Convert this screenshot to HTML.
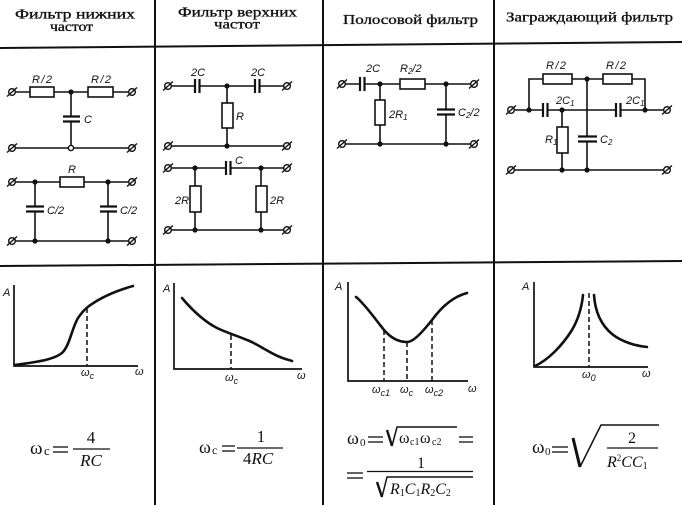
<!DOCTYPE html>
<html><head><meta charset="utf-8"><style>
html,body{margin:0;padding:0;background:#fff}
svg{display:block}
.w{stroke:#111;stroke-width:1.6;fill:none}
.r{stroke:#111;stroke-width:1.6;fill:#fff}
.p{stroke:#111;stroke-width:2.2}
.g{stroke:#111;stroke-width:2;fill:none}
.cv{stroke:#111;stroke-width:2.6;fill:none;stroke-linecap:round}
.ax{stroke:#111;stroke-width:1.7;fill:none}
.d{stroke:#111;stroke-width:1.5;stroke-dasharray:5 3}
.lb{font-family:"Liberation Sans",sans-serif;font-style:italic;font-size:11px;fill:#111}
.hd{font-family:"Liberation Serif","DejaVu Serif",serif;font-size:14px;fill:#111;stroke:#111;stroke-width:0.35}
.f{font-family:"Liberation Serif",serif;fill:#111}
.fi{font-family:"Liberation Serif",serif;font-style:italic;fill:#111}
</style></head><body>
<svg width="682" height="505" viewBox="0 0 682 505" xmlns="http://www.w3.org/2000/svg">
<defs>
<g id="t"><circle r="3.3" fill="#fff" stroke="#111" stroke-width="1.4"/><line x1="-5" y1="4.5" x2="5" y2="-4.5" stroke="#111" stroke-width="1.4"/></g>
</defs>

<!-- grid -->
<line class="g" x1="0" y1="48" x2="682" y2="42"/>
<line class="g" x1="0" y1="266" x2="682" y2="261"/>
<line class="g" x1="155" y1="0" x2="155" y2="505"/>
<line class="g" x1="323" y1="0" x2="323" y2="505"/>
<line class="g" x1="494" y1="0" x2="494" y2="505"/>

<!-- headers -->
<text class="hd" x="15" y="18.5" textLength="120" lengthAdjust="spacingAndGlyphs">Фильтр нижних</text>
<text class="hd" x="50" y="31" textLength="43" lengthAdjust="spacingAndGlyphs">частот</text>
<text class="hd" x="178" y="16.5" textLength="119" lengthAdjust="spacingAndGlyphs">Фильтр верхних</text>
<text class="hd" x="214" y="28.5" textLength="46" lengthAdjust="spacingAndGlyphs">частот</text>
<text class="hd" x="343" y="24" textLength="135" lengthAdjust="spacingAndGlyphs">Полосовой фильтр</text>
<text class="hd" x="506" y="21.5" textLength="167" lengthAdjust="spacingAndGlyphs">Заграждающий фильтр</text>

<!-- ===== Circuit 1: LPF T ===== -->
<line class="w" x1="12" y1="92" x2="132" y2="92"/>
<rect class="r" x="30" y="87" width="24" height="10"/>
<rect class="r" x="88" y="87" width="25" height="10"/>
<line class="w" x1="71" y1="92" x2="71" y2="148"/>
<rect x="62" y="117" width="20" height="4" fill="#fff"/>
<line class="p" x1="63" y1="116.5" x2="80" y2="116.5"/>
<line class="p" x1="63" y1="121.5" x2="80" y2="121.5"/>
<line class="w" x1="12" y1="148" x2="132" y2="148"/>
<circle cx="71" cy="92" r="2.6" fill="#111"/>
<circle cx="71" cy="148" r="2.6" fill="#fff" stroke="#111" stroke-width="1.4"/>
<use href="#t" x="12" y="92"/><use href="#t" x="132" y="92"/>
<use href="#t" x="12" y="148"/><use href="#t" x="132" y="148"/>
<text class="lb" x="32" y="83" font-size="12" textLength="20">R/2</text>
<text class="lb" x="91" y="83" font-size="12" textLength="20">R/2</text>
<text class="lb" x="84" y="123">C</text>

<!-- ===== Circuit 2: LPF Pi ===== -->
<line class="w" x1="12" y1="182" x2="132" y2="182"/>
<rect class="r" x="60" y="177" width="24" height="10"/>
<line class="w" x1="35" y1="182" x2="35" y2="241"/>
<line class="w" x1="108" y1="182" x2="108" y2="241"/>
<rect x="24" y="207" width="22" height="4" fill="#fff"/>
<rect x="98" y="207" width="22" height="4" fill="#fff"/>
<line class="p" x1="26" y1="206.5" x2="44" y2="206.5"/>
<line class="p" x1="26" y1="211.5" x2="44" y2="211.5"/>
<line class="p" x1="100" y1="206.5" x2="117" y2="206.5"/>
<line class="p" x1="100" y1="211.5" x2="117" y2="211.5"/>
<line class="w" x1="12" y1="241" x2="132" y2="241"/>
<circle cx="35" cy="182" r="2.6" fill="#111"/><circle cx="108" cy="182" r="2.6" fill="#111"/>
<circle cx="35" cy="241" r="2.6" fill="#111"/><circle cx="108" cy="241" r="2.6" fill="#111"/>
<use href="#t" x="12" y="182"/><use href="#t" x="132" y="182"/>
<use href="#t" x="12" y="241"/><use href="#t" x="132" y="241"/>
<text class="lb" x="68" y="173" font-size="12">R</text>
<text class="lb" x="47" y="214" font-size="12">C/2</text>
<text class="lb" x="120" y="214" font-size="12">C/2</text>

<!-- ===== Circuit 3: HPF T ===== -->
<line class="w" x1="168" y1="86" x2="287" y2="86"/>
<rect x="195" y="80" width="4" height="12" fill="#fff"/>
<line class="p" x1="195" y1="79" x2="195" y2="93"/>
<line class="p" x1="199.5" y1="79" x2="199.5" y2="93"/>
<rect x="255" y="80" width="4" height="12" fill="#fff"/>
<line class="p" x1="255" y1="79" x2="255" y2="93"/>
<line class="p" x1="259.5" y1="79" x2="259.5" y2="93"/>
<line class="w" x1="227" y1="86" x2="227" y2="146"/>
<rect class="r" x="222" y="103" width="11" height="25"/>
<line class="w" x1="168" y1="146" x2="287" y2="146"/>
<circle cx="227" cy="86" r="2.6" fill="#111"/><circle cx="227" cy="146" r="2.6" fill="#111"/>
<use href="#t" x="168" y="86"/><use href="#t" x="287" y="86"/>
<use href="#t" x="168" y="146"/><use href="#t" x="287" y="146"/>
<text class="lb" x="191" y="76">2C</text>
<text class="lb" x="251" y="76">2C</text>
<text class="lb" x="236" y="120">R</text>

<!-- ===== Circuit 4: HPF Pi ===== -->
<line class="w" x1="168" y1="168" x2="287" y2="168"/>
<rect x="226" y="162" width="4" height="12" fill="#fff"/>
<line class="p" x1="226" y1="161" x2="226" y2="175"/>
<line class="p" x1="230.5" y1="161" x2="230.5" y2="175"/>
<line class="w" x1="195" y1="168" x2="195" y2="230"/>
<line class="w" x1="261" y1="168" x2="261" y2="230"/>
<rect class="r" x="190" y="186" width="11" height="26"/>
<rect class="r" x="256" y="186" width="11" height="26"/>
<line class="w" x1="168" y1="230" x2="287" y2="230"/>
<circle cx="195" cy="168" r="2.6" fill="#111"/><circle cx="261" cy="168" r="2.6" fill="#111"/>
<circle cx="195" cy="230" r="2.6" fill="#111"/><circle cx="261" cy="230" r="2.6" fill="#111"/>
<use href="#t" x="168" y="168"/><use href="#t" x="287" y="168"/>
<use href="#t" x="168" y="230"/><use href="#t" x="287" y="230"/>
<text class="lb" x="235" y="164">C</text>
<text class="lb" x="175" y="204">2R</text>
<text class="lb" x="270" y="204">2R</text>

<!-- ===== Circuit 5: band-pass ===== -->
<line class="w" x1="342" y1="84" x2="474" y2="84"/>
<rect x="360" y="78" width="4" height="12" fill="#fff"/>
<line class="p" x1="360" y1="77" x2="360" y2="91"/>
<line class="p" x1="364.5" y1="77" x2="364.5" y2="91"/>
<rect class="r" x="400" y="79" width="25" height="10"/>
<line class="w" x1="380" y1="84" x2="380" y2="144"/>
<rect class="r" x="375" y="100" width="10" height="25"/>
<line class="w" x1="446" y1="84" x2="446" y2="144"/>
<rect x="436" y="110" width="20" height="4" fill="#fff"/>
<line class="p" x1="437" y1="109.5" x2="455" y2="109.5"/>
<line class="p" x1="437" y1="114.5" x2="455" y2="114.5"/>
<line class="w" x1="342" y1="144" x2="474" y2="144"/>
<circle cx="380" cy="84" r="2.6" fill="#111"/><circle cx="446" cy="84" r="2.6" fill="#111"/>
<circle cx="380" cy="144" r="2.6" fill="#111"/><circle cx="446" cy="144" r="2.6" fill="#111"/>
<use href="#t" x="342" y="84"/><use href="#t" x="474" y="84"/>
<use href="#t" x="342" y="144"/><use href="#t" x="474" y="144"/>
<text class="lb" x="366" y="72">2C</text>
<text class="lb" x="400" y="72">R<tspan font-size="8" dy="2">2</tspan><tspan dy="-2">/2</tspan></text>
<text class="lb" x="389" y="118">2R<tspan font-size="8" dy="2">1</tspan></text>
<text class="lb" x="458" y="116">C<tspan font-size="8" dy="2">2</tspan><tspan dy="-2">/2</tspan></text>

<!-- ===== Circuit 6: notch ===== -->
<polyline class="w" points="529,110 529,79 645,79 645,110"/>
<rect class="r" x="543" y="74" width="29" height="10"/>
<rect class="r" x="603" y="74" width="29" height="10"/>
<line class="w" x1="511" y1="110" x2="667" y2="110"/>
<rect x="543" y="104" width="4" height="12" fill="#fff"/>
<line class="p" x1="543" y1="103" x2="543" y2="117"/>
<line class="p" x1="547.5" y1="103" x2="547.5" y2="117"/>
<rect x="616" y="104" width="4" height="12" fill="#fff"/>
<line class="p" x1="616" y1="103" x2="616" y2="117"/>
<line class="p" x1="620.5" y1="103" x2="620.5" y2="117"/>
<line class="w" x1="587" y1="79" x2="587" y2="170"/>
<rect x="577" y="137" width="21" height="4" fill="#fff"/>
<line class="p" x1="578" y1="136.5" x2="597" y2="136.5"/>
<line class="p" x1="578" y1="141.5" x2="597" y2="141.5"/>
<line class="w" x1="562" y1="110" x2="562" y2="170"/>
<rect class="r" x="557" y="127" width="11" height="26"/>
<line class="w" x1="511" y1="170" x2="667" y2="170"/>
<circle cx="587" cy="79" r="2.6" fill="#111"/>
<circle cx="529" cy="110" r="2.6" fill="#111"/><circle cx="562" cy="110" r="2.6" fill="#111"/><circle cx="645" cy="110" r="2.6" fill="#111"/>
<circle cx="562" cy="170" r="2.6" fill="#111"/><circle cx="587" cy="170" r="2.6" fill="#111"/>
<use href="#t" x="511" y="110"/><use href="#t" x="667" y="110"/>
<use href="#t" x="511" y="170"/><use href="#t" x="667" y="170"/>
<text class="lb" x="546" y="69" font-size="12" textLength="20">R/2</text>
<text class="lb" x="606" y="69" font-size="12" textLength="20">R/2</text>
<text class="lb" x="556" y="104">2C<tspan font-size="8" dy="2">1</tspan></text>
<text class="lb" x="626" y="104">2C<tspan font-size="8" dy="2">1</tspan></text>
<text class="lb" x="545" y="143">R<tspan font-size="8" dy="2">1</tspan></text>
<text class="lb" x="600" y="143">C<tspan font-size="8" dy="2">2</tspan></text>

<!-- ===== Graph 1 ===== -->
<path class="ax" d="M14,285 V366 H138"/>
<line class="d" x1="87" y1="308" x2="87" y2="366"/>
<path class="cv" d="M15,365 C35,362 55,360 63,352 C70,344 72,328 78,318 C82,312 85,309 89,306 C100,298 115,291 133,286"/>
<text class="lb" x="3" y="296">A</text>
<text class="lb" x="81" y="376" font-size="14">ω<tspan font-size="9" dy="3">c</tspan></text>
<text class="lb" x="135" y="375" font-size="14">ω</text>

<!-- ===== Graph 2 ===== -->
<path class="ax" d="M174,283 V369 H302"/>
<line class="d" x1="231" y1="335" x2="231" y2="369"/>
<path class="cv" d="M182,298 C192,310 205,322 217,328 C225,332 235,335 247,340 C256,343 268,352 280,357 C285,359 289,360 292,361"/>
<text class="lb" x="163" y="292">A</text>
<text class="lb" x="225" y="381" font-size="14">ω<tspan font-size="9" dy="3">c</tspan></text>
<text class="lb" x="297" y="379" font-size="14">ω</text>

<!-- ===== Graph 3 ===== -->
<path class="ax" d="M348,282 V381 H468"/>
<line class="d" x1="384" y1="330" x2="384" y2="381"/>
<line class="d" x1="407" y1="342" x2="407" y2="381"/>
<line class="d" x1="432" y1="320" x2="432" y2="381"/>
<path class="cv" d="M356,297 C364,303 376,320 384,330 C390,337 398,342 407,342 C414,342 424,330 432,320 C440,309 452,297 467,293"/>
<text class="lb" x="335" y="290">A</text>
<text class="lb" x="372" y="393" font-size="14">ω<tspan font-size="9" dy="3">c1</tspan></text>
<text class="lb" x="400" y="393" font-size="14">ω<tspan font-size="9" dy="3">c</tspan></text>
<text class="lb" x="425" y="393" font-size="14">ω<tspan font-size="9" dy="3">c2</tspan></text>
<text class="lb" x="468" y="392" font-size="14">ω</text>

<!-- ===== Graph 4 ===== -->
<path class="ax" d="M534,282 V367 H648"/>
<line class="d" x1="589" y1="293" x2="589" y2="367"/>
<path class="cv" d="M535,366 C548,360 562,346 572,330 C579,318 582,305 583,295"/>
<path class="cv" d="M594,295 C595,310 600,324 612,334 C622,342 636,346 647,347"/>
<text class="lb" x="522" y="290">A</text>
<text class="lb" x="582" y="378" font-size="14">ω<tspan font-size="9" dy="3">0</tspan></text>
<text class="lb" x="642" y="377" font-size="14">ω</text>

<!-- ===== Formula 1 ===== -->
<text class="f" x="30" y="454" font-size="19">ω</text>
<text class="f" x="44" y="455" font-size="13">c</text>
<line x1="53" y1="447" x2="68" y2="447" stroke="#111" stroke-width="1.3"/>
<line x1="53" y1="452" x2="68" y2="452" stroke="#111" stroke-width="1.3"/>
<text class="f" x="91" y="443" font-size="17" text-anchor="middle">4</text>
<line x1="73" y1="449" x2="110" y2="449" stroke="#111" stroke-width="1.2"/>
<text class="fi" x="91" y="466" font-size="17" text-anchor="middle">RC</text>

<!-- ===== Formula 2 ===== -->
<text class="f" x="199" y="453" font-size="18">ω</text>
<text class="f" x="212" y="454" font-size="12">c</text>
<line x1="222" y1="446" x2="235" y2="446" stroke="#111" stroke-width="1.3"/>
<line x1="222" y1="451" x2="235" y2="451" stroke="#111" stroke-width="1.3"/>
<text class="f" x="261" y="442" font-size="17" text-anchor="middle">1</text>
<line x1="237" y1="448" x2="283" y2="448" stroke="#111" stroke-width="1.2"/>
<text class="f" x="243" y="464" font-size="17">4<tspan font-style="italic">RC</tspan></text>

<!-- ===== Formula 3 ===== -->
<text class="f" x="347" y="444" font-size="18">ω</text>
<text class="f" x="360" y="446" font-size="11">0</text>
<line x1="368" y1="437" x2="383" y2="437" stroke="#111" stroke-width="1.3"/>
<line x1="368" y1="442" x2="383" y2="442" stroke="#111" stroke-width="1.3"/>
<polyline points="387,430 392,446" fill="none" stroke="#111" stroke-width="2.4"/>
<polyline points="392,446 397,427 457,427" fill="none" stroke="#111" stroke-width="1.5"/>
<text class="f" x="399" y="443" font-size="16">ω</text>
<text class="f" x="410" y="445" font-size="10">c1</text>
<text class="f" x="420" y="443" font-size="16">ω</text>
<text class="f" x="432" y="445" font-size="10">c2</text>
<line x1="459" y1="437" x2="473" y2="437" stroke="#111" stroke-width="1.3"/>
<line x1="459" y1="442" x2="473" y2="442" stroke="#111" stroke-width="1.3"/>
<line x1="347" y1="473" x2="363" y2="473" stroke="#111" stroke-width="1.3"/>
<line x1="347" y1="478" x2="363" y2="478" stroke="#111" stroke-width="1.3"/>
<text class="f" x="421" y="468" font-size="16" text-anchor="middle">1</text>
<line x1="367" y1="471.5" x2="473" y2="471.5" stroke="#111" stroke-width="1.2"/>
<polyline points="377,482 382,497" fill="none" stroke="#111" stroke-width="2.4"/>
<polyline points="382,497 387,477 473,477" fill="none" stroke="#111" stroke-width="1.5"/>
<text class="fi" x="390" y="494" font-size="16">R<tspan font-style="normal" font-size="10" dy="2">1</tspan><tspan dy="-2">C</tspan><tspan font-style="normal" font-size="10" dy="2">1</tspan><tspan dy="-2">R</tspan><tspan font-style="normal" font-size="10" dy="2">2</tspan><tspan dy="-2">C</tspan><tspan font-style="normal" font-size="10" dy="2">2</tspan></text>

<!-- ===== Formula 4 ===== -->
<text class="f" x="532" y="453" font-size="19">ω</text>
<text class="f" x="545" y="455" font-size="11">0</text>
<line x1="552" y1="447" x2="568" y2="447" stroke="#111" stroke-width="1.3"/>
<line x1="552" y1="452" x2="568" y2="452" stroke="#111" stroke-width="1.3"/>
<polyline points="573,438 580,467" fill="none" stroke="#111" stroke-width="3"/>
<polyline points="580,467 601,425 659,425" fill="none" stroke="#111" stroke-width="1.5"/>
<text class="f" x="632" y="443" font-size="16" text-anchor="middle">2</text>
<line x1="607" y1="448" x2="658" y2="448" stroke="#111" stroke-width="1.2"/>
<text class="fi" x="607" y="467" font-size="16">R<tspan font-style="normal" font-size="9" dy="-6">2</tspan><tspan dy="6">CC</tspan><tspan font-style="normal" font-size="10" dy="2">1</tspan></text>
</svg>
</body></html>
